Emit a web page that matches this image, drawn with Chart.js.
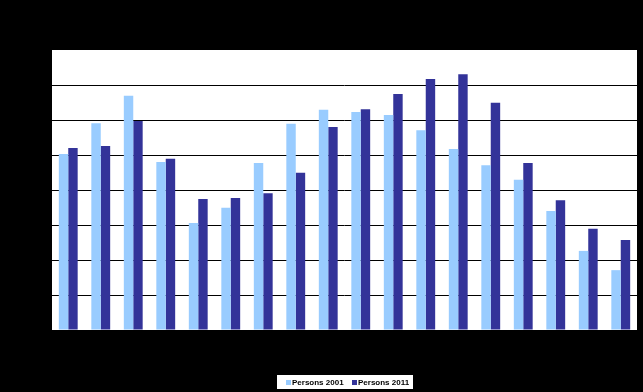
<!DOCTYPE html>
<html>
<head>
<meta charset="utf-8">
<script src="https://cdn.jsdelivr.net/npm/chart.js@4/dist/chart.umd.min.js"></script>
<style>
  html, body { margin: 0; padding: 0; background: #000; }
  #wrap { width: 643px; height: 392px; position: relative; }
</style>
</head>
<body>
<div id="wrap"><canvas id="c" width="643" height="392"></canvas></div>
<script>
const categories = ["0-4","5-9","10-14","15-19","20-24","25-29","30-34","35-39","40-44","45-49","50-54","55-59","60-64","65-69","70-74","75-79","80-84","85+"];
const persons2001 = [5.03, 5.91, 6.69, 4.80, 3.06, 3.49, 4.77, 5.89, 6.29, 6.23, 6.14, 5.71, 5.17, 4.71, 4.29, 3.40, 2.26, 1.71];
const persons2011 = [5.20, 5.26, 5.97, 4.89, 3.74, 3.77, 3.91, 4.49, 5.80, 6.31, 6.74, 7.17, 7.31, 6.49, 4.77, 3.71, 2.89, 2.57];
const yTicks = [0, 1, 2, 3, 4, 5, 6, 7, 8];
const seriesNames = ["Persons 2001", "Persons 2011"];
const seriesColors = ["#99CCFF", "#333399"];

const bgPlugin = {
  id: 'bg',
  beforeDraw(chart) {
    const ctx = chart.ctx, a = chart.chartArea;
    ctx.save();
    ctx.fillStyle = '#000';
    ctx.fillRect(0, 0, chart.width, chart.height);
    ctx.fillStyle = '#fff';
    ctx.fillRect(a.left, a.top, a.right - a.left, a.bottom - a.top);
    ctx.restore();
  }
};

const legendPlugin = {
  id: 'customLegend',
  afterDraw(chart) {
    const ctx = chart.ctx, a = chart.chartArea;
    const cx = (a.left + a.right) / 2;
    const boxW = 136, boxH = 14;
    const left = Math.round(cx - boxW / 2), top = 375;
    ctx.save();
    ctx.fillStyle = '#fff';
    ctx.fillRect(left, top, boxW, boxH);
    ctx.font = 'bold 8px "Liberation Sans", Arial, sans-serif';
    ctx.textBaseline = 'middle';
    let x = left + 9;
    chart.data.datasets.forEach((ds, i) => {
      ctx.fillStyle = ds.backgroundColor;
      ctx.fillRect(x, 380, 5, 5);
      ctx.fillStyle = '#000';
      ctx.fillText(ds.label, x + 6, 382.5);
      x += 66;
    });
    ctx.restore();
  }
};

new Chart(document.getElementById('c'), {
  type: 'bar',
  data: {
    labels: categories,
    datasets: [
      { label: seriesNames[0], data: persons2001, backgroundColor: seriesColors[0] },
      { label: seriesNames[1], data: persons2011, backgroundColor: seriesColors[1] }
    ]
  },
  options: {
    responsive: false,
    animation: false,
    devicePixelRatio: 1,
    layout: { padding: { top: 50, right: 6, left: 0, bottom: 0 } },
    datasets: { bar: { categoryPercentage: 0.58, barPercentage: 1.0 } },
    plugins: {
      legend: { display: false },
      tooltip: { enabled: false }
    },
    scales: {
      x: {
        grid: { display: false, drawTicks: false },
        border: { display: true, color: '#000', width: 1 },
        ticks: { color: '#000', font: { size: 9 }, maxRotation: 0, autoSkip: false },
        afterFit(scale) { scale.height = 62; }
      },
      y: {
        min: 0, max: 8,
        afterBuildTicks(scale) { scale.ticks = yTicks.map(v => ({ value: v })); },
        grid: {
          color: (c) => (c.tick && c.tick.value === 8) ? 'rgba(0,0,0,0)' : '#000',
          lineWidth: 1,
          drawTicks: true,
          tickLength: 1
        },
        border: { display: false },
        ticks: { color: '#000', font: { size: 9 } },
        afterFit(scale) { scale.width = 52; }
      }
    }
  },
  plugins: [bgPlugin, legendPlugin]
});
</script>
</body>
</html>
